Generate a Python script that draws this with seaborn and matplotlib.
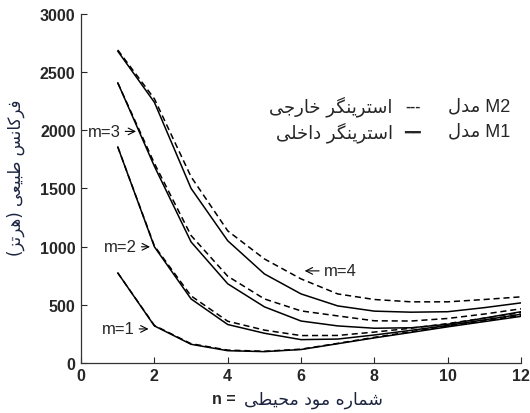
import numpy as np
import pandas as pd
import matplotlib
matplotlib.use("Agg")
import matplotlib.pyplot as plt
import seaborn as sns

# شماره مود محیطی
n = [1, 2, 3, 4, 5, 6, 7, 8, 9, 10, 11, 12]

# فرکانس (هرتز) - مدل M1 (استرینگر داخلی، خط پر)
m1_M1 = [774, 318, 160, 105, 97, 115, 165, 215, 262, 310, 355, 400]
m2_M1 = [1857, 998, 550, 330, 255, 200, 205, 240, 280, 322, 370, 418]
m3_M1 = [2408, 1690, 1040, 680, 482, 360, 318, 298, 302, 332, 385, 440]
m4_M1 = [2680, 2240, 1500, 1050, 765, 593, 490, 445, 436, 440, 475, 516]

# فرکانس (هرتز) - مدل M2 (استرینگر خارجی، خط چین)
m1_M2 = [774, 322, 165, 110, 100, 118, 168, 220, 268, 316, 362, 408]
m2_M2 = [1857, 1005, 576, 358, 282, 235, 236, 265, 298, 338, 385, 432]
m3_M2 = [2408, 1715, 1095, 745, 550, 447, 404, 362, 360, 382, 420, 465]
m4_M2 = [2690, 2270, 1600, 1135, 894, 722, 593, 545, 525, 525, 545, 568]

# ---- شکل دادن ساده به حروف فارسی (matplotlib خودش حروف را نمی چسباند) ----
FORMS = {
    'ا': ('\uFE8D', '\uFE8E', None, None),
    'ب': ('\uFE8F', '\uFE90', '\uFE91', '\uFE92'),
    'ت': ('\uFE95', '\uFE96', '\uFE97', '\uFE98'),
    'ج': ('\uFE9D', '\uFE9E', '\uFE9F', '\uFEA0'),
    'ح': ('\uFEA1', '\uFEA2', '\uFEA3', '\uFEA4'),
    'خ': ('\uFEA5', '\uFEA6', '\uFEA7', '\uFEA8'),
    'د': ('\uFEA9', '\uFEAA', None, None),
    'ر': ('\uFEAD', '\uFEAE', None, None),
    'ز': ('\uFEAF', '\uFEB0', None, None),
    'س': ('\uFEB1', '\uFEB2', '\uFEB3', '\uFEB4'),
    'ش': ('\uFEB5', '\uFEB6', '\uFEB7', '\uFEB8'),
    'ط': ('\uFEC1', '\uFEC2', '\uFEC3', '\uFEC4'),
    'ع': ('\uFEC9', '\uFECA', '\uFECB', '\uFECC'),
    'ف': ('\uFED1', '\uFED2', '\uFED3', '\uFED4'),
    'ل': ('\uFEDD', '\uFEDE', '\uFEDF', '\uFEE0'),
    'م': ('\uFEE1', '\uFEE2', '\uFEE3', '\uFEE4'),
    'ن': ('\uFEE5', '\uFEE6', '\uFEE7', '\uFEE8'),
    'ه': ('\uFEE9', '\uFEEA', '\uFEEB', '\uFEEC'),
    'و': ('\uFEED', '\uFEEE', None, None),
    'ی': ('\uFBFC', '\uFBFD', '\uFBFE', '\uFBFF'),
    'ک': ('\uFB8E', '\uFB8F', '\uFB90', '\uFB91'),
    'گ': ('\uFB92', '\uFB93', '\uFB94', '\uFB95'),
}
MIRROR = {'(': ')', ')': '('}


def fa(text):
    out = []
    for i, ch in enumerate(text):
        if ch not in FORMS:
            out.append(MIRROR.get(ch, ch))
            continue
        prev = text[i - 1] if i > 0 else ''
        nxt = text[i + 1] if i + 1 < len(text) else ''
        join_prev = prev in FORMS and FORMS[prev][2] is not None
        join_next = FORMS[ch][2] is not None and nxt in FORMS
        iso, fin, ini, med = FORMS[ch]
        if join_prev and join_next:
            out.append(med)
        elif join_prev:
            out.append(fin)
        elif join_next:
            out.append(ini)
        else:
            out.append(iso)
    return ''.join(out[::-1])


rows = []
for m, a, b in [(1, m1_M1, m1_M2), (2, m2_M1, m2_M2), (3, m3_M1, m3_M2), (4, m4_M1, m4_M2)]:
    for i in range(len(n)):
        rows.append({'n': n[i], 'f': a[i], 'm': m, 'model': 'M1'})
        rows.append({'n': n[i], 'f': b[i], 'm': m, 'model': 'M2'})
df = pd.DataFrame(rows)

sns.set_style("ticks")
plt.rcParams['font.family'] = ['Liberation Sans', 'DejaVu Sans']

fig = plt.figure(figsize=(5.3, 4.14), dpi=100)
ax = fig.add_axes([0.153, 0.121, 0.830, 0.843])

sns.lineplot(data=df, x='n', y='f', units='m', hue='model', style='model',
             estimator=None, palette={'M1': 'black', 'M2': 'black'},
             dashes={'M1': '', 'M2': (4, 2.5)}, linewidth=1.1, legend=False, ax=ax)

ax.set_xlim(0, 12)
ax.set_ylim(0, 3000)
ax.set_xticks(range(0, 13, 2))
ax.set_yticks(range(0, 3001, 500))
sns.despine(ax=ax)
ax.tick_params(direction='in', length=4, width=0.8, labelsize=11.5, pad=4)
for lab in ax.get_xticklabels() + ax.get_yticklabels():
    lab.set_fontweight('bold')
for s in ['left', 'bottom']:
    ax.spines[s].set_linewidth(0.9)
    ax.spines[s].set_color('#333333')
ax.set_xlabel('')
ax.set_ylabel('')

fa_font = ['DejaVu Sans']
# برچسب محورها
fig.text(0.029, 0.57, fa('فرکانس طبیعی (هرتز)'), rotation=90, ha='center', va='center',
         fontsize=12, family=fa_font, color='#1c2440')
fig.text(0.40, 0.034, 'n = ', ha='left', va='center', fontsize=11.5, fontweight='bold')
fig.text(0.722, 0.034, fa('شماره مود محیطی'), ha='right', va='center', fontsize=12.5,
         family=fa_font, color='#1c2440')

# راهنما
ax.text(11.7, 2210, fa('مدل') + ' M2', ha='right', va='center', fontsize=13, family=['Liberation Sans', 'DejaVu Sans'])
ax.text(9.05, 2210, '---', ha='center', va='center', fontsize=11, fontweight='bold')
ax.text(8.5, 2210, fa('استرینگر خارجی'), ha='right', va='center', fontsize=13, family=fa_font)
ax.text(11.7, 1990, fa('مدل') + ' M1', ha='right', va='center', fontsize=13, family=['Liberation Sans', 'DejaVu Sans'])
ax.text(9.05, 1990, '━━', ha='center', va='center', fontsize=10, family=['DejaVu Sans'])
ax.text(8.5, 1990, fa('استرینگر داخلی'), ha='right', va='center', fontsize=13, family=fa_font)

# برچسب m ها
arrow = dict(arrowstyle='->', lw=0.8, color='black', shrinkA=1, shrinkB=0)
ax.annotate('m=3', xy=(1.5, 1990), xytext=(0.18, 1990), ha='left', va='center', fontsize=12, arrowprops=arrow)
ax.annotate('m=2', xy=(1.88, 998), xytext=(0.62, 998), ha='left', va='center', fontsize=12, arrowprops=arrow)
ax.annotate('m=1', xy=(1.84, 292), xytext=(0.56, 292), ha='left', va='center', fontsize=12, arrowprops=arrow)
ax.annotate('m=4', xy=(6.1, 791), xytext=(6.62, 791), ha='left', va='center', fontsize=12, arrowprops=arrow)

fig.savefig('out.png', dpi=100)
